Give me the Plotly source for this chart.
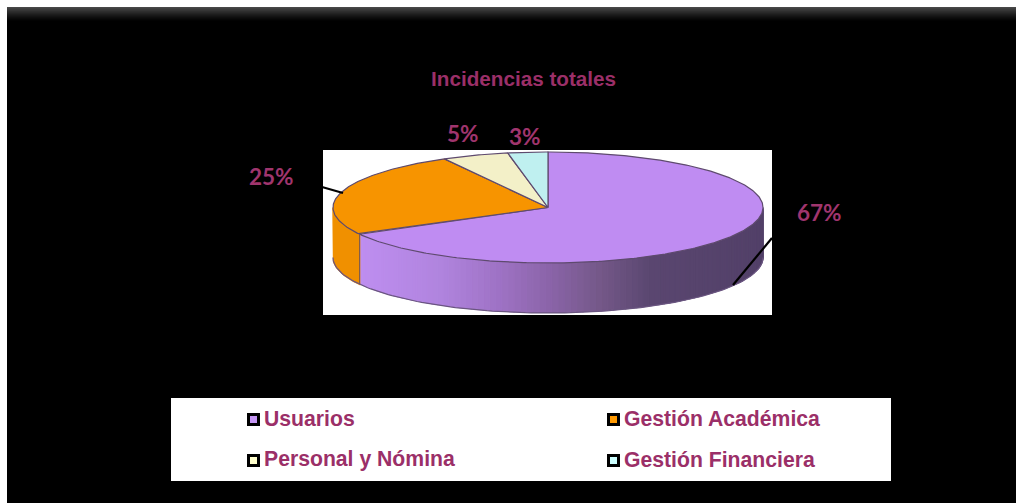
import math
import plotly.graph_objects as go

# ---- data ----
categories = ["Usuarios", "Gestión Académica", "Personal y Nómina", "Gestión Financiera"]
values = [67, 25, 5, 3]
pct_labels = ["67%", "25%", "5%", "3%"]
title_text = "Incidencias totales"

# ---- styles ----
top_colors = ["#BF8CF2", "#F79400", "#F3F0C8", "#BFF0F0"]
side_orange = "#F09000"
legend_colors = ["#C596F5", "#FF9900", "#FFFFCC", "#CCFFFF"]
edge_color = "#5E4A6E"
text_color = "#9B2F68"
wall_stops = [(360, (190, 142, 240)), (440, (176, 132, 222)), (500, (158, 114, 196)),
              (550, (138, 100, 168)), (600, (116, 88, 136)), (650, (90, 70, 112)), (763, (82, 64, 104))]

W, H = 1016, 503
cx, cy, rx, ry, depth = 548.0, 207.5, 215.0, 55.5, 50.0


def pt(deg, dy=0.0):
    a = math.radians(deg)
    return cx + rx * math.sin(a), cy - ry * math.cos(a) + dy


def wall_color(x):
    if x <= wall_stops[0][0]:
        c = wall_stops[0][1]
    elif x >= wall_stops[-1][0]:
        c = wall_stops[-1][1]
    else:
        for (x0, c0), (x1, c1) in zip(wall_stops, wall_stops[1:]):
            if x0 <= x <= x1:
                t = (x - x0) / (x1 - x0)
                c = tuple(c0[i] + (c1[i] - c0[i]) * t for i in range(3))
                break
    return "rgb(%d,%d,%d)" % tuple(round(v) for v in c)


fig = go.Figure()


def poly(xs, ys, fill, line=None, width=0.0):
    fig.add_trace(go.Scatter(
        x=xs, y=ys, mode="lines", fill="toself", fillcolor=fill,
        line=dict(color=line or fill, width=width if line else 1.5),
        hoverinfo="skip", showlegend=False))


total = sum(values)
bounds = [0.0]
for v in values:
    bounds.append(bounds[-1] + v / total * 360.0)

# side wall of the first slice, only its visible part (right to lower-left)
start, end = 90.0, bounds[1]
steps = 90
for i in range(steps):
    a0 = start + (end - start) * i / steps
    a1 = start + (end - start) * (i + 1) / steps
    p0, p1 = pt(a0), pt(a1)
    q0, q1 = pt(a0, depth - 0.7), pt(a1, depth - 0.7)
    poly([p0[0], p1[0], q1[0], q0[0], p0[0]], [p0[1], p1[1], q1[1], q0[1], p0[1]],
         wall_color((p0[0] + p1[0]) / 2))

# side wall of the second slice, visible part
arc = [bounds[1] + (270.0 - bounds[1]) * i / 20 for i in range(21)]
xs = [pt(a)[0] for a in arc] + [pt(a, depth)[0] for a in reversed(arc)]
ys = [pt(a)[1] for a in arc] + [pt(a, depth)[1] for a in reversed(arc)]
poly(xs + xs[:1], ys + ys[:1], side_orange)

# outline of the wall
arc = [90 + (270 - 90) * i / 120 for i in range(121)]
fig.add_trace(go.Scatter(x=[pt(a, depth)[0] for a in arc], y=[pt(a, depth)[1] for a in arc],
                         mode="lines", line=dict(color="#6A5580", width=1.2),
                         hoverinfo="skip", showlegend=False))
p, q = pt(bounds[1]), pt(bounds[1], depth)
fig.add_trace(go.Scatter(x=[p[0], q[0]], y=[p[1], q[1]], mode="lines",
                         line=dict(color="#7A5A50", width=1), hoverinfo="skip", showlegend=False))

# top faces
for i, col in enumerate(top_colors):
    a0, a1 = bounds[i], bounds[i + 1]
    n = max(8, int((a1 - a0) * 1.5))
    arc = [a0 + (a1 - a0) * k / n for k in range(n + 1)]
    xs = [cx] + [pt(a)[0] for a in arc] + [cx]
    ys = [cy] + [pt(a)[1] for a in arc] + [cy]
    poly(xs, ys, col, line=edge_color, width=1.2)

# leader lines
for x0, y0, x1, y1 in [(322, 187, 343, 193), (772, 238, 733, 285)]:
    fig.add_trace(go.Scatter(x=[x0, x1], y=[y0, y1], mode="lines",
                             line=dict(color="black", width=2.2), hoverinfo="skip", showlegend=False))

# legend markers + text
lx = [253.5, 613.5, 253.5, 613.5]
ly = [419.5, 419.5, 460.5, 460.5]
fig.add_trace(go.Scatter(
    x=lx, y=ly, mode="markers",
    marker=dict(symbol="square", size=10, color=legend_colors, line=dict(color="black", width=3)),
    hoverinfo="skip", showlegend=False))

annotations = [dict(x=523, y=78, text="<b>%s</b>" % title_text, showarrow=False, xanchor="center",
                    yanchor="middle", font=dict(family="Liberation Sans", size=20.7, color=text_color))]
for t, x, y in zip(categories, lx, ly):
    annotations.append(dict(x=x + 10.5, y=y - 1.5, text="<b>%s</b>" % t, showarrow=False, xanchor="left",
                            yanchor="middle", xshift=-2,
                            font=dict(family="Liberation Sans", size=21.2, color=text_color)))
for t, x, y in zip(pct_labels, [819, 271, 463, 525], [212, 176, 133, 136]):
    annotations.append(dict(x=x, y=y, text="<b>%s</b>" % t, showarrow=False, xanchor="center",
                            yanchor="middle", font=dict(family="Lato", size=22.5, color="#A0356E")))

shapes = [
    dict(type="rect", x0=7, x1=W, y0=7, y1=H, fillcolor="black", line_width=0, layer="below"),
    dict(type="rect", x0=323, x1=772, y0=150, y1=315, fillcolor="white", line_width=0, layer="below"),
    dict(type="rect", x0=171, x1=891, y0=398, y1=481, fillcolor="white", line_width=0, layer="below"),
]
for k in range(14):
    g = round(72 * (1 - k / 14) ** 1.3)
    shapes.append(dict(type="rect", x0=7, x1=W, y0=7 + k, y1=8 + k,
                       fillcolor="rgb(%d,%d,%d)" % (g, g, g), line_width=0, layer="below"))

fig.update_layout(
    width=W, height=H, margin=dict(l=0, r=0, t=0, b=0),
    paper_bgcolor="white", plot_bgcolor="white", showlegend=False, hovermode=False,
    xaxis=dict(range=[0, W], visible=False, fixedrange=True),
    yaxis=dict(range=[H, 0], visible=False, fixedrange=True),
    shapes=shapes, annotations=annotations,
)
fig.write_html("out.html", config=dict(displayModeBar=False),
               post_script="document.documentElement.style.overflow='hidden';document.body.style.margin='0';")
